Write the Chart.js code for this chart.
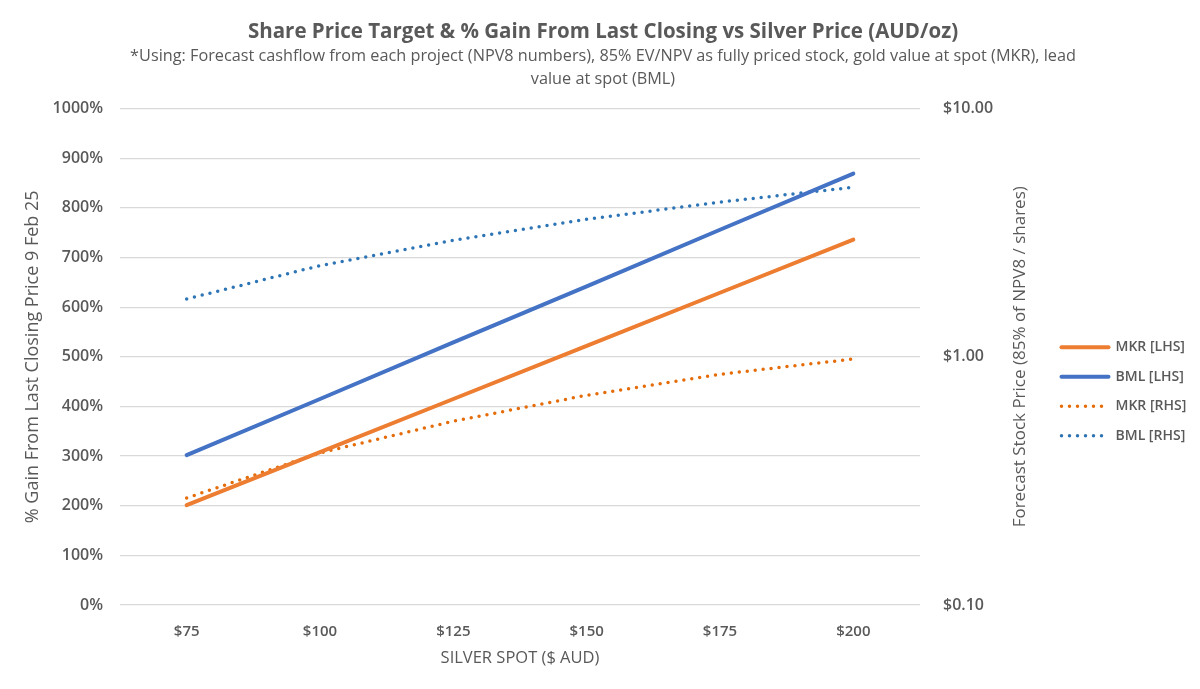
<!DOCTYPE html>
<html>
  <head>
    <meta charset="utf-8" />
    <title>Silver price chart</title>
    <script src="https://cdn.jsdelivr.net/npm/chart.js@4.4.1/dist/chart.umd.min.js"></script>
    <style>
      html, body { margin: 0; padding: 0; background: #fff; }
      #wrap { width: 1200px; height: 689px; }
    </style>
  </head>
  <body>
    <div id="wrap"><canvas id="chart"></canvas></div>
    <script>
      // values
      const silverSpot = ["$75", "$100", "$125", "$150", "$175", "$200"];
      const mkrGain = [201, 308, 415, 522, 629, 736]; // % gain, left axis
      const bmlGain = [302, 415, 529, 642, 756, 869]; // % gain, left axis
      const mkrPrice = [0.27, 0.41, 0.55, 0.7, 0.85, 0.98]; // $ per share, right axis
      const bmlPrice = [1.71, 2.33, 2.95, 3.58, 4.2, 4.82]; // $ per share, right axis
      const rightTicks = [0.1, 1, 10];
      const rightTitleText = "Forecast Stock Price (85% of NPV8 / shares)";

      const grey = "#595959";
      const font = "'Open Sans', sans-serif";
      const padRight = 4;

      // chart.js puts a right-hand title the other way up, so draw it here
      const rightTitle = {
        id: "rightTitle",
        afterDraw(chart) {
          const ctx = chart.ctx;
          const area = chart.chartArea;
          ctx.save();
          ctx.translate(area.right + 100, (area.top + area.bottom) / 2);
          ctx.rotate(-Math.PI / 2);
          ctx.font = "17px " + font;
          ctx.fillStyle = grey;
          ctx.textAlign = "center";
          ctx.textBaseline = "middle";
          ctx.fillText(rightTitleText, 0, 0);
          ctx.restore();
        },
      };

      // legend sits a bit lower than centre in the original
      const legendShift = {
        id: "legendShift",
        afterLayout(chart) {
          chart.legend.top += 47;
          chart.legend.bottom += 47;
        },
      };

      const chart = new Chart(document.getElementById("chart"), {
        type: "line",
        data: {
          labels: silverSpot,
          datasets: [
            {
              label: "MKR [LHS]",
              data: mkrGain,
              yAxisID: "yL",
              borderColor: "#ED7D31",
              borderWidth: 4,
              borderCapStyle: "round",
              pointRadius: 0,
              pointStyle: "line",
            },
            {
              label: "BML [LHS]",
              data: bmlGain,
              yAxisID: "yL",
              borderColor: "#4472C4",
              borderWidth: 4,
              borderCapStyle: "round",
              pointRadius: 0,
              pointStyle: "line",
            },
            {
              label: "MKR [RHS]",
              data: mkrPrice,
              yAxisID: "yR",
              borderColor: "#E46C0A",
              borderWidth: 3.5,
              borderDash: [0, 8],
              borderCapStyle: "round",
              pointRadius: 0,
              pointStyle: "line",
            },
            {
              label: "BML [RHS]",
              data: bmlPrice,
              yAxisID: "yR",
              borderColor: "#2E75B6",
              borderWidth: 3.5,
              borderDash: [0, 8],
              borderCapStyle: "round",
              pointRadius: 0,
              pointStyle: "line",
            },
          ],
        },
        plugins: [rightTitle, legendShift],
        options: {
          responsive: true,
          maintainAspectRatio: false,
          animation: false,
          layout: { padding: { left: 10, right: padRight, top: 0, bottom: 0 } },
          plugins: {
            title: {
              display: true,
              text: "Share Price Target & % Gain From Last Closing vs Silver Price (AUD/oz)",
              color: grey,
              font: { family: font, size: 20.5, weight: "bold" },
              padding: { top: 20, bottom: 0 },
            },
            subtitle: {
              display: true,
              text: [
                "*Using: Forecast cashflow from each project (NPV8 numbers), 85% EV/NPV as fully priced stock, gold value at spot (MKR), lead",
                "value at spot (BML)",
              ],
              color: grey,
              font: { family: font, size: 16.25, lineHeight: "23px" },
              padding: { top: 0, bottom: 18 },
            },
            legend: {
              position: "right",
              maxWidth: 150,
              labels: {
                usePointStyle: true,
                pointStyleWidth: 47,
                boxHeight: 4,
                color: grey,
                font: { family: font, size: 14, weight: "600" },
                padding: 15.5,
                generateLabels: (chart) => {
                  const items = Chart.defaults.plugins.legend.labels.generateLabels(chart);
                  items.forEach((it) => {
                    const ds = chart.data.datasets[it.datasetIndex];
                    it.lineDash = ds.borderDash || [];
                    it.lineCap = "round";
                    it.lineWidth = ds.borderWidth;
                  });
                  return items;
                },
              },
            },
            tooltip: { enabled: false },
          },
          scales: {
            x: {
              offset: true,
              afterFit: (scale) => {
                scale.height = 84;
              },
              grid: { display: false, drawTicks: false },
              border: { display: false },
              ticks: { color: grey, font: { family: font, size: 15, weight: "600" }, padding: 18 },
              title: {
                display: true,
                text: "SILVER SPOT ($ AUD)",
                color: grey,
                font: { family: font, size: 16.5 },
                padding: { top: 0, bottom: 21 },
              },
            },
            yL: {
              position: "left",
              min: 0,
              max: 1000,
              afterFit: (scale) => {
                scale.width = 110;
              },
              grid: { color: "#D9D9D9", lineWidth: 1.3, drawTicks: false },
              border: { display: false },
              ticks: {
                stepSize: 100,
                color: grey,
                font: { family: font, size: 16, weight: "600" },
                padding: 17,
                callback: (v) => v + "%",
              },
              title: {
                display: true,
                text: "% Gain From Last Closing Price 9 Feb 25",
                color: grey,
                font: { family: font, size: 18 },
                padding: { top: 12, bottom: 0 },
              },
            },
            yR: {
              type: "logarithmic",
              position: "right",
              min: 0.1,
              max: 10,
              afterFit: (scale) => {
                scale.width = scale.chart.width - 920 - padRight - scale.chart.legend.width;
              },
              grid: { drawOnChartArea: false, drawTicks: false },
              border: { display: false },
              afterBuildTicks: (scale) => {
                scale.ticks = rightTicks.map((v) => ({ value: v }));
              },
              ticks: {
                color: grey,
                font: { family: font, size: 16, weight: "600" },
                padding: 23,
                callback: (v) => "$" + Number(v).toFixed(2),
              },
            },
          },
        },
      });
    </script>
  </body>
</html>
